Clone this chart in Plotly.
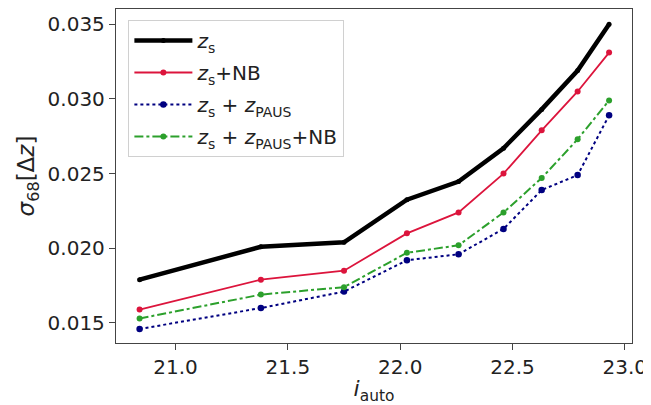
import plotly.graph_objects as go

i_auto = [20.84, 21.38, 21.75, 22.03, 22.26, 22.46, 22.63, 22.79, 22.93]
sigma_zs = [0.0179, 0.0201, 0.0204, 0.02325, 0.02447, 0.0267, 0.0293, 0.0319, 0.0350]
sigma_zs_nb = [0.0159, 0.0179, 0.0185, 0.0210, 0.0224, 0.0250, 0.0279, 0.0305, 0.0331]
sigma_zs_paus = [0.0146, 0.0160, 0.0171, 0.0192, 0.0196, 0.0213, 0.0239, 0.0249, 0.0289]
sigma_zs_paus_nb = [0.0153, 0.0169, 0.0174, 0.0197, 0.0202, 0.0224, 0.0247, 0.0273, 0.0299]

x_ticks = [21.0, 21.5, 22.0, 22.5, 23.0]
y_ticks = [0.015, 0.020, 0.025, 0.030, 0.035]

FONT = "DejaVu Sans"

series = [
    ("<i>z</i><sub>s</sub>", sigma_zs, "black", 4.5, "solid", 5),
    ("<i>z</i><sub>s</sub>+NB", sigma_zs_nb, "#dc143c", 1.8, "solid", 6),
    ("<i>z</i><sub>s</sub> + <i>z</i><sub>PAUS</sub>", sigma_zs_paus, "#000080", 2, "dot", 6.5),
    ("<i>z</i><sub>s</sub> + <i>z</i><sub>PAUS</sub>+NB", sigma_zs_paus_nb, "#2ca02c", 2, "dashdot", 6),
]

fig = go.Figure()
for k, (name, ys, color, lw, dash, ms) in enumerate(series):
    fig.add_trace(go.Scatter(
        x=i_auto, y=ys, name=name, mode="lines+markers",
        line=dict(color=color, width=lw, dash=dash),
        marker=dict(color=color, size=ms, symbol="circle"),
        legendgroup=f"g{k}",
    ))

axis_common = dict(
    showline=True, linecolor="#444", linewidth=1.3, mirror=True,
    ticks="outside", ticklen=6, tickwidth=1.2, tickcolor="#444",
    showgrid=False, zeroline=False, automargin=False,
    tickfont=dict(family=FONT, size=20, color="#222"),
)

fig.update_xaxes(
    range=[20.735, 23.032], tickvals=x_ticks,
    ticktext=[f"{v:.1f}" for v in x_ticks],
    title=dict(text="<i>i</i><sub>auto</sub>", font=dict(family=FONT, size=22, color="#222"), standoff=2),
    **axis_common,
)
fig.update_yaxes(
    range=[0.01366, 0.03602], tickvals=y_ticks,
    ticktext=[f"{v:.3f}" for v in y_ticks],
    title=dict(text="<i>σ</i><sub>68</sub>[Δ<i>z</i>]", font=dict(family=FONT, size=23, color="#222"), standoff=6),
    **axis_common,
)

# the page body has an 8px default margin, so the figure is offset by (8, 8)
fig.update_layout(
    width=643, height=397,
    margin=dict(l=108, r=18.5, t=1, b=61.7),
    plot_bgcolor="white", paper_bgcolor="white",
    font=dict(family=FONT, color="#222"),
    legend=dict(
        x=0.024, y=0.967, xanchor="left", yanchor="top",
        bgcolor="rgba(255,255,255,0.85)", bordercolor="#d0d0d0", borderwidth=1,
        font=dict(family=FONT, size=20, color="#222"),
        tracegroupgap=3, itemwidth=58,
    ),
)

fig.write_html("out.html")
